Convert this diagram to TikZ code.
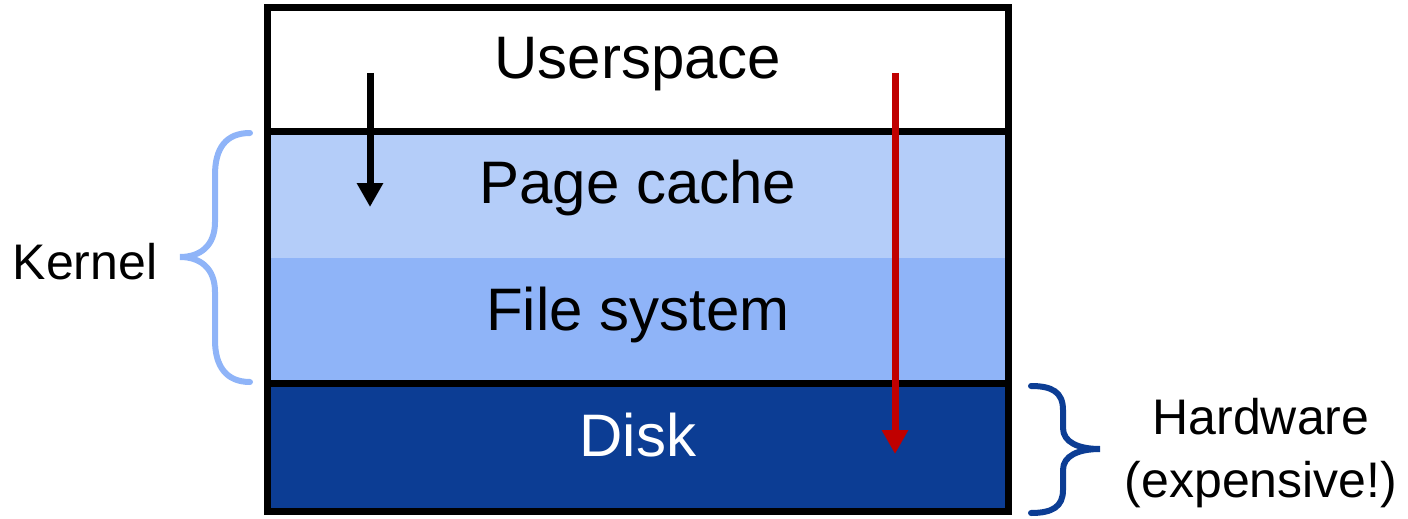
\documentclass[tikz,border=0pt]{standalone}
\usepackage{fontspec}
\setmainfont{Liberation Sans}
\usetikzlibrary{arrows.meta}
\definecolor{cacheblue}{HTML}{B4CDF9}
\definecolor{fsblue}{HTML}{8FB4F8}
\definecolor{diskblue}{HTML}{0C3D94}
\definecolor{pathred}{HTML}{C00000}
\begin{document}
\begin{tikzpicture}[x=0.5pt,y=-0.5pt,
  layer/.style={draw=none, inner sep=0pt, minimum width=370pt,
    font=\fontsize{30}{36}\selectfont, text height=21pt, text depth=12pt},
  side/.style={font=\fontsize{25}{31.5}\selectfont, align=center, inner sep=0pt},
  frame/.style={line width=3.5pt},
  flow/.style={line width=3.5pt, -{Triangle[length=12pt,width=12.5pt]}},
  kbrace/.style={line width=3pt, line cap=round, draw=fsblue},
  hbrace/.style={line width=3pt, line cap=round, draw=diskblue}]
\useasboundingbox (0,0) rectangle (1408,519);

% stacked layers
\node[layer, fill=white,     minimum height=61.5pt] (user)  at (638,69.5) {Userspace};
\node[layer, fill=cacheblue, minimum height=63.5pt] (cache) at (638,194.5) {Page cache};
\node[layer, fill=fsblue,    minimum height=63pt]   (fs)    at (638,321) {File system};
\node[layer, fill=diskblue, text=white, minimum height=64pt] (disk) at (638,447.5) {Disk};

% outlines of the stack
\draw[frame] (user.north west) rectangle (disk.south east);
\draw[frame] (user.south west) -- (user.south east);
\draw[frame] (disk.north west) -- (disk.north east);

% request paths
\coordinate (bstart) at (370,73);
\coordinate (bend)   at (370,207);
\coordinate (rstart) at (895,73);
\coordinate (rend)   at (895,454);
\draw[flow] (bstart) -- (bend);
\draw[flow, pathred] (rstart) -- (rend);

% kernel brace and label
\draw[kbrace] (250,133) .. controls (226,133) and (215,148) .. (215,175)
  -- (215,222) .. controls (215,246) and (200,257) .. (180,257)
  .. controls (200,257) and (215,268) .. (215,292)
  -- (215,340) .. controls (215,366) and (226,382) .. (250,382);
\node[side, anchor=base] (kernel) at (85,279) {Kernel};

% hardware brace and label
\draw[hbrace] (1031,386) .. controls (1052,386) and (1063,392) .. (1063,410)
  -- (1063,428) .. controls (1063,442) and (1078,449) .. (1100,449)
  .. controls (1078,449) and (1063,456) .. (1063,470)
  -- (1063,490) .. controls (1063,507) and (1052,513) .. (1031,513);
\node[side, anchor=base] (hw) at (1261,497) {Hardware\\(expensive!)};
\end{tikzpicture}
\end{document}
